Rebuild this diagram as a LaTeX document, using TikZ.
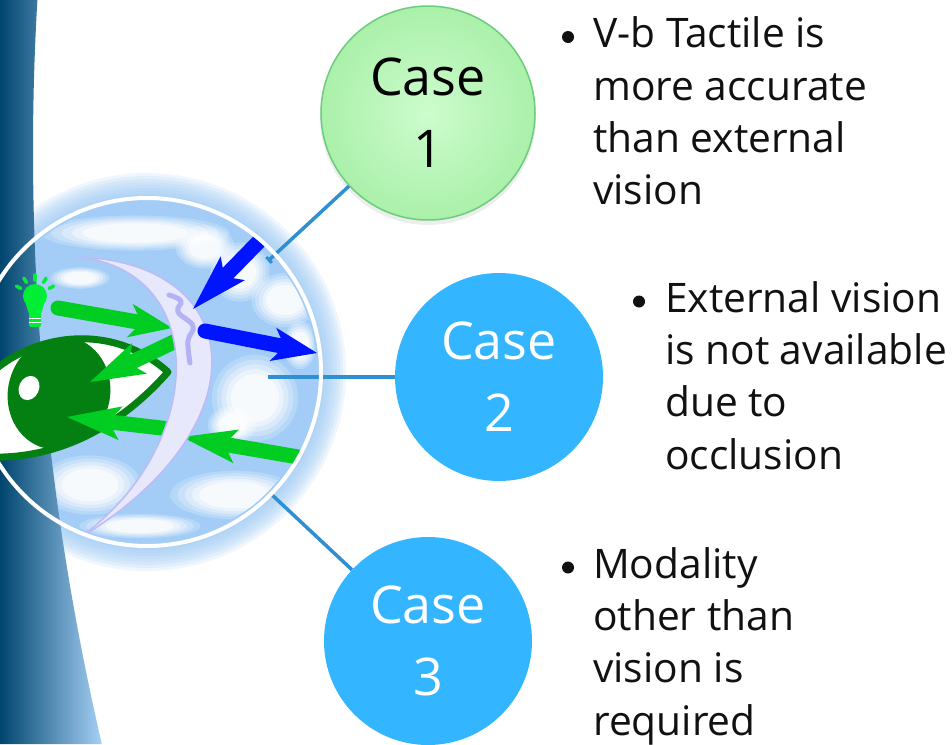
\documentclass[tikz,border=0pt]{standalone}
\usepackage{fontspec}
\setmainfont{Open Sans}
\usetikzlibrary{arrows.meta,calc}

\definecolor{bandDark}{HTML}{00456E}
\definecolor{bandMid}{HTML}{2B7FCC}
\definecolor{bandLight}{HTML}{A6D0F5}
\definecolor{globeBlue}{HTML}{A3CDF7}
\definecolor{haloBlue}{HTML}{9CC9F5}
\definecolor{linkBlue}{HTML}{2E8FD2}
\definecolor{caseBlue}{HTML}{33B6FF}
\definecolor{caseGreenIn}{HTML}{CDFCCD}
\definecolor{caseGreenOut}{HTML}{AAF0AA}
\definecolor{caseGreenRim}{HTML}{6CCD7C}
\definecolor{rayGreen}{HTML}{00CC22}
\definecolor{bulbGreen}{HTML}{00EE33}
\definecolor{eyeGreen}{HTML}{048012}
\definecolor{touchBlue}{HTML}{0014FF}
\definecolor{lensFill}{HTML}{E8E8FD}
\definecolor{lensRim}{HTML}{BCBCF5}
\definecolor{waveLilac}{HTML}{B2B2F4}
\definecolor{ink}{HTML}{111111}

% soft white cloud patch on the globe
\newcommand\softblob[4]{%
  \foreach \k/\o in {1.35/0.2,1.2/0.26,1.05/0.33,0.9/0.45,0.75/0.65}{%
    \fill[white,opacity=\o] (#1,#2) ellipse ({#3*\k} and {#4*\k});}}

% outline of the eye
\newcommand\almondpath{(-12,376) .. controls (30,335) and (110,320) .. (168,372)
  .. controls (130,415) and (70,460) .. (-12,457) -- cycle}

\tikzset{
  link/.style={linkBlue, line width=3.5pt},
  greenray/.style={rayGreen, line width=15pt, line cap=round,
    -{Stealth[length=#1, width=34pt, inset=12pt, line width=0pt]}},
  blueray/.style={touchBlue, line width=15pt, line cap=round,
    -{Stealth[length=#1, width=34pt, inset=12pt, line width=0pt]}},
  casenode/.style={circle, minimum size=#1, inner sep=0pt,
    font=\fontsize{52}{72}\selectfont},
  bodytext/.style={anchor=base west, inner sep=0pt, text=ink,
    font=\fontsize{40.7}{52.4}\selectfont},
  bulletdot/.style={circle, fill=ink, minimum size=12pt, inner sep=0pt},
}

\begin{document}
\begin{tikzpicture}[x=1pt,y=-1pt]
\useasboundingbox (0,0) rectangle (952,744);
\fill[white] (0,0) rectangle (952,744);

\coordinate (g) at (147,372);

% glow around the globe and its body
\foreach \r in {199,196,...,177}{\fill[haloBlue,opacity=0.16] (g) circle (\r);}
\fill[globeBlue] (g) circle (175);
\begin{scope}
  \clip (g) circle (170);
  \softblob{135}{233}{70}{13}
  \softblob{205}{247}{22}{16}
  \softblob{240}{272}{22}{22}
  \softblob{285}{300}{25}{20}
  \softblob{255}{398}{32}{32}
  \softblob{232}{425}{18}{14}
  \softblob{90}{485}{38}{22}
  \softblob{235}{495}{48}{18}
  \softblob{140}{526}{45}{9}
  \softblob{80}{278}{22}{8}
  \softblob{300}{345}{12}{18}
\end{scope}

% dark blue band along the left edge
\shade[left color=bandDark, middle color=bandMid, right color=bandLight]
  plot[domain=0:744, samples=60]
    ({33+1.95*((\x-150)/100)*((\x-150)/100)}, \x)
  -- (0,744) -- (0,0) -- cycle;

% eye
\fill[white] \almondpath;
\begin{scope}
  \clip \almondpath;
  \fill[eyeGreen, rotate around={-15:(59,393)}] (59,393) ellipse (51 and 57);
\end{scope}
\draw[eyeGreen, line width=7pt, line join=round] \almondpath;
\fill[white, rotate around={-25:(29,388)}] (29,388) ellipse (10 and 12.5);

% light bulb
\fill[bulbGreen] (35,296) circle (12);
\fill[bulbGreen] (25,301) -- (45,301) -- (41,314) -- (29,314) -- cycle;
\fill[bulbGreen, rounded corners=2pt] (29,313) rectangle (41,327);
\draw[white, line width=1pt] (29,318) -- (41,318) (29,322) -- (41,322);
\foreach \a in {-152,-122,-90,-58,-28}{
  \draw[bulbGreen, line width=3.5pt, line cap=round]
    ($(35,296)+(\a:16)$) -- ($(35,296)+(\a:21)$);}

% the three cases and their connectors
\coordinate (t1) at (268,261);
\coordinate (t2) at (268,377);
\coordinate (t3) at (270,493);

\fill[black,opacity=0.07] (428,117) circle (108);
\node[casenode=208pt, fill=caseBlue, text=white] (c2) at (499,377)
  {\begin{tabular}{@{}c@{}}\rule{0pt}{57.6pt}Case\\2\end{tabular}};
\node[casenode=208pt, fill=caseBlue, text=white] (c3) at (428,641)
  {\begin{tabular}{@{}c@{}}\rule{0pt}{57.6pt}Case\\3\end{tabular}};
\node[casenode=214pt, inner color=caseGreenIn, outer color=caseGreenOut,
      draw=caseGreenRim, line width=1.5pt, text=black] (c1) at (428,113)
  {\begin{tabular}{@{}c@{}}\rule{0pt}{57.6pt}Case\\1\end{tabular}};

\draw[link, {Bar[width=8pt,line width=3pt]}-] (t1) -- (c1);
\draw[link] (t2) -- (c2);
\draw[link, {Bar[width=8pt,line width=3pt]}-] (t3) -- (c3);

% light rays, lens and touch signals inside the globe
\begin{scope}
  \clip (g) circle (173);
  \draw[greenray=43pt] (58,308) -- (172,328);
  \draw[greenray=55pt] (180,339) -- (90,382);
  \draw[greenray=54pt] (170,429) -- (67,417);
  \draw[greenray=55pt] (310,459) -- (182,437);

  \filldraw[fill=lensFill, draw=lensRim, line width=1.5pt]
    (77,257) .. controls (250,262) and (265,430) .. (73,542)
    .. controls (205,455) and (215,270) .. (77,257) -- cycle;

  \draw[waveLilac, line width=5pt, line cap=round, line join=round]
    plot[smooth, tension=0.7] coordinates
    {(169,295) (181,301) (178,312) (193,326) (188,341) (190,363)};

  \draw[blueray=57pt] (275,225) -- (193,309);
  \draw[blueray=45pt] (205,331) -- (317,353);
\end{scope}

% rim of the globe
\draw[white, line width=4pt] (g) circle (174);

% explanations
\node[bulletdot] (b1) at (568,37) {};
\node[bodytext] (p1) at (593,47.6)
  {\begin{tabular}[t]{@{}l@{}}V-b Tactile is\\more accurate\\than external\\vision\end{tabular}};
\node[bulletdot] (b2) at (639,301.5) {};
\node[bodytext] (p2) at (665,312)
  {\begin{tabular}[t]{@{}l@{}}External vision\\is not available\\due to\\occlusion\end{tabular}};
\node[bulletdot] (b3) at (568,567.5) {};
\node[bodytext] (p3) at (593,578)
  {\begin{tabular}[t]{@{}l@{}}Modality\\other than\\vision is\\required\end{tabular}};
\end{tikzpicture}
\end{document}
